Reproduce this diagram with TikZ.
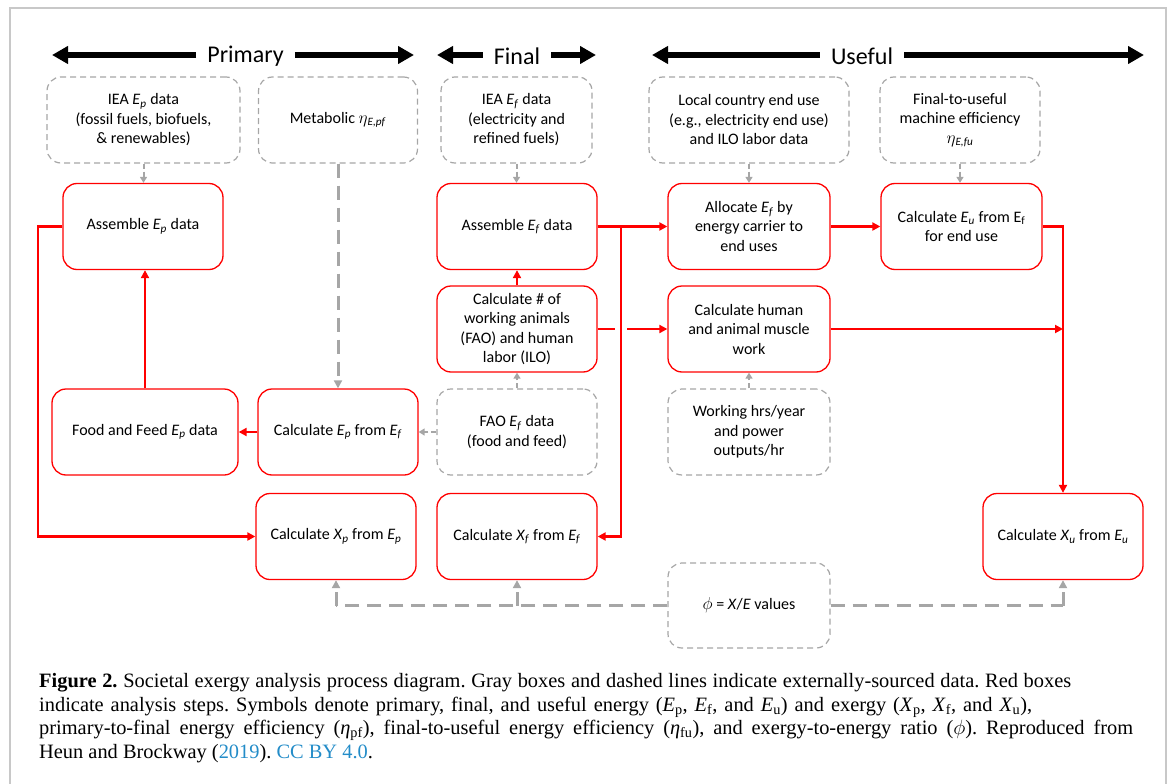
\documentclass[tikz,border=0pt]{standalone}
\usepackage{fontspec}
\setmainfont{Carlito}
\newfontfamily\capfont{Liberation Serif}
\usetikzlibrary{arrows.meta}
\definecolor{dgray}{RGB}{166,166,166}
\definecolor{framegray}{RGB}{200,200,200}
\definecolor{linkblue}{RGB}{35,140,200}
\newcommand{\Ei}[2]{\textit{#1}\textsubscript{\textit{#2}}}
\frenchspacing
\begin{document}
\begin{tikzpicture}[x=1pt,y=-1pt,
  redbox/.style={draw=red, line width=1.3pt, rounded corners=14pt, minimum width=160pt, minimum height=86pt, align=center, inner sep=2pt, font=\fontsize{16}{19.5}\selectfont},
  graybox/.style={draw=dgray, line width=1.2pt, dash pattern=on 6pt off 4pt, rounded corners=14pt, minimum width=160pt, minimum height=86pt, align=center, inner sep=2pt, font=\fontsize{16}{19.5}\selectfont},
  redarrow/.style={draw=red, line width=2.8pt, -{Triangle[length=8pt,width=8pt]}},
  redline/.style={draw=red, line width=2.8pt},
  grayarrow/.style={draw=dgray, line width=2pt, dash pattern=on 5pt off 3pt, -{Triangle[length=6pt,width=7pt]}},
  graythick/.style={draw=dgray, line width=3pt, dash pattern=on 14pt off 8pt},
  graythickarrow/.style={draw=dgray, line width=3pt, dash pattern=on 14pt off 8pt, -{Triangle[length=8pt,width=8pt]}},
  hdarrow/.style={line width=5.5pt, -{Triangle[length=16pt,width=17pt]}},
  hdtext/.style={font=\fontsize{24}{28}\selectfont, inner xsep=11pt, inner ysep=0pt},
  capline/.style={anchor=base west, inner sep=0pt, font=\capfont\fontsize{20.4}{24}\selectfont}
]
\useasboundingbox (0,0) rectangle (1173,784);
% frame
\draw[framegray, line width=1.5pt] (10,784) -- (10,8) -- (1166,8) -- (1166,784);

% headers
\node[hdtext] (hP) at (245.5,56.5) {Primary};
\node[hdtext] (hF) at (517,56.5) {Final};
\node[hdtext] (hU) at (862,56.5) {Useful};
\coordinate (pL) at (52,55); \coordinate (pR) at (414,55);
\coordinate (fL) at (437,55); \coordinate (fR) at (596,55);
\coordinate (uL) at (652,55); \coordinate (uR) at (1144,55);
\draw[hdarrow] (hP.west |- pL) -- (pL);
\draw[hdarrow] (hP.east |- pR) -- (pR);
\draw[hdarrow] (hF.west |- fL) -- (fL);
\draw[hdarrow] (hF.east |- fR) -- (fR);
\draw[hdarrow] (hU.west |- uL) -- (uL);
\draw[hdarrow] (hU.east |- uR) -- (uR);

% row 1 (data)
\node[graybox, minimum width=193pt] (ieaEp) at (143.5,120) {IEA \Ei{E}{p} data\\(fossil fuels, biofuels,\\\& renewables)};
\node[graybox, minimum width=159pt] (metab) at (338,120) {Metabolic $\eta$\textsubscript{\textit{E,pf}}};
\node[graybox, minimum width=151pt] (ieaEf) at (516.5,120) {IEA \Ei{E}{f} data\\(electricity and\\refined fuels)};
\node[graybox, minimum width=200pt] (local) at (749,120) {Local country end use\\(e.g., electricity end use)\\and ILO labor data};
\node[graybox, minimum width=160pt] (f2u) at (960,120) {Final-to-useful\\machine efficiency\\$\eta$\textsubscript{\textit{E,fu}}};

% row 2
\node[redbox] (asmEp) at (143,226.5) {Assemble \Ei{E}{p} data};
\node[redbox] (asmEf) at (517,226.5) {Assemble \Ei{E}{f} data};
\node[redbox, minimum width=162pt] (alloc) at (749,226.5) {Allocate \Ei{E}{f} by\\energy carrier to\\end uses};
\node[redbox, minimum width=161pt] (calcEu) at (961.5,226.5) {Calculate \Ei{E}{u} from E\textsubscript{f}\\for end use};

% row 3
\node[redbox] (calcN) at (517,329) {Calculate \# of\\working animals\\(FAO) and human\\labor (ILO)};
\node[redbox, minimum width=162pt] (human) at (749,329) {Calculate human\\and animal muscle\\work};

% row 4
\node[redbox, minimum width=186pt] (food) at (145,432) {Food and Feed \Ei{E}{p} data};
\node[redbox] (calcEp) at (338,432) {Calculate \Ei{E}{p} from \Ei{E}{f}};
\node[graybox] (fao) at (517,432) {FAO \Ei{E}{f} data\\(food and feed)};
\node[graybox, minimum width=162pt] (work) at (749,432) {Working hrs/year\\and power\\outputs/hr};

% row 5
\node[redbox] (calcXp) at (336,536.5) {Calculate \Ei{X}{p} from \Ei{E}{p}};
\node[redbox] (calcXf) at (517,536.5) {Calculate \Ei{X}{f} from \Ei{E}{f}};
\node[redbox] (calcXu) at (1063,536.5) {Calculate \Ei{X}{u} from \Ei{E}{u}};

% phi
\node[graybox, minimum width=162pt, minimum height=85pt] (phi) at (749,605.5) {$\phi$ = \textit{X}/\textit{E} values};

% gray short arrows
\draw[grayarrow] (ieaEp.south) -- (ieaEp.south |- asmEp.north);
\draw[grayarrow] (ieaEf.south) -- (ieaEf.south |- asmEf.north);
\draw[grayarrow] (local.south) -- (alloc.north);
\draw[grayarrow] (f2u.south) -- (f2u.south |- calcEu.north);
\draw[grayarrow] (fao.north) -- (calcN.south);
\draw[grayarrow] (fao.west) -- (calcEp.east);
\draw[grayarrow] (work.north) -- (human.south);
\draw[graythickarrow] (metab.south) -- (calcEp.north);

% phi connectors
\coordinate (phL) at (phi.west -| calcXp.south);
\coordinate (phM) at (phi.west -| calcXf.south);
\coordinate (phR) at (phi.east -| calcXu.south);
\draw[graythick] (phi.west) -- (phL);
\draw[graythickarrow] (phL) -- (calcXp.south);
\draw[graythickarrow] (phM) -- (calcXf.south);
\draw[graythick] (phi.east) -- (phR);
\draw[graythickarrow] (phR) -- (calcXu.south);

% red connectors
\coordinate (lc) at (38,226.5);
\draw[redarrow] (asmEp.west) -- (lc) |- (calcXp.west);
\draw[redarrow] (food.north) -- (food.north |- asmEp.south);
\draw[redarrow] (calcEp.west) -- (food.east);
\draw[redarrow] (calcN.north) -- (asmEf.south);
\draw[redarrow] (asmEf.east) -- (alloc.west);
\coordinate (br) at (621,226.5);
\draw[redarrow] (br) |- (calcXf.east);
\coordinate (gapL) at (615,329);
\coordinate (gapR) at (627,329);
\draw[redline] (calcN.east) -- (gapL);
\draw[redarrow] (gapR) -- (human.west);
\draw[redarrow] (alloc.east) -- (calcEu.west);
\draw[redarrow] (calcEu.east) -| (calcXu.north);
\draw[redarrow] (human.east) -- (human.east -| calcXu.north);

% caption
\node[capline] (c1) at (39,687) {\makebox[1032pt][s]{\textbf{Figure 2.} Societal exergy analysis process diagram. Gray boxes and dashed lines indicate externally-sourced data. Red boxes}};
\node[capline] (c2) at (39,711) {\makebox[993pt][s]{indicate analysis steps. Symbols denote primary, final, and useful energy (\textit{E}\textsubscript{p}, \textit{E}\textsubscript{f}, and \textit{E}\textsubscript{u}) and exergy (\textit{X}\textsubscript{p}, \textit{X}\textsubscript{f}, and \textit{X}\textsubscript{u}),}};
\node[capline] (c3) at (39,734.5) {\makebox[1094pt][s]{primary-to-final energy efficiency (\textit{η}\textsubscript{pf}), final-to-useful energy efficiency (\textit{η}\textsubscript{fu}), and exergy-to-energy ratio ($\phi$). Reproduced from}};
\node[capline] (c4) at (39,758) {Heun and Brockway (\textcolor{linkblue}{2019}). \textcolor{linkblue}{CC BY 4.0}.};
\end{tikzpicture}
\end{document}
